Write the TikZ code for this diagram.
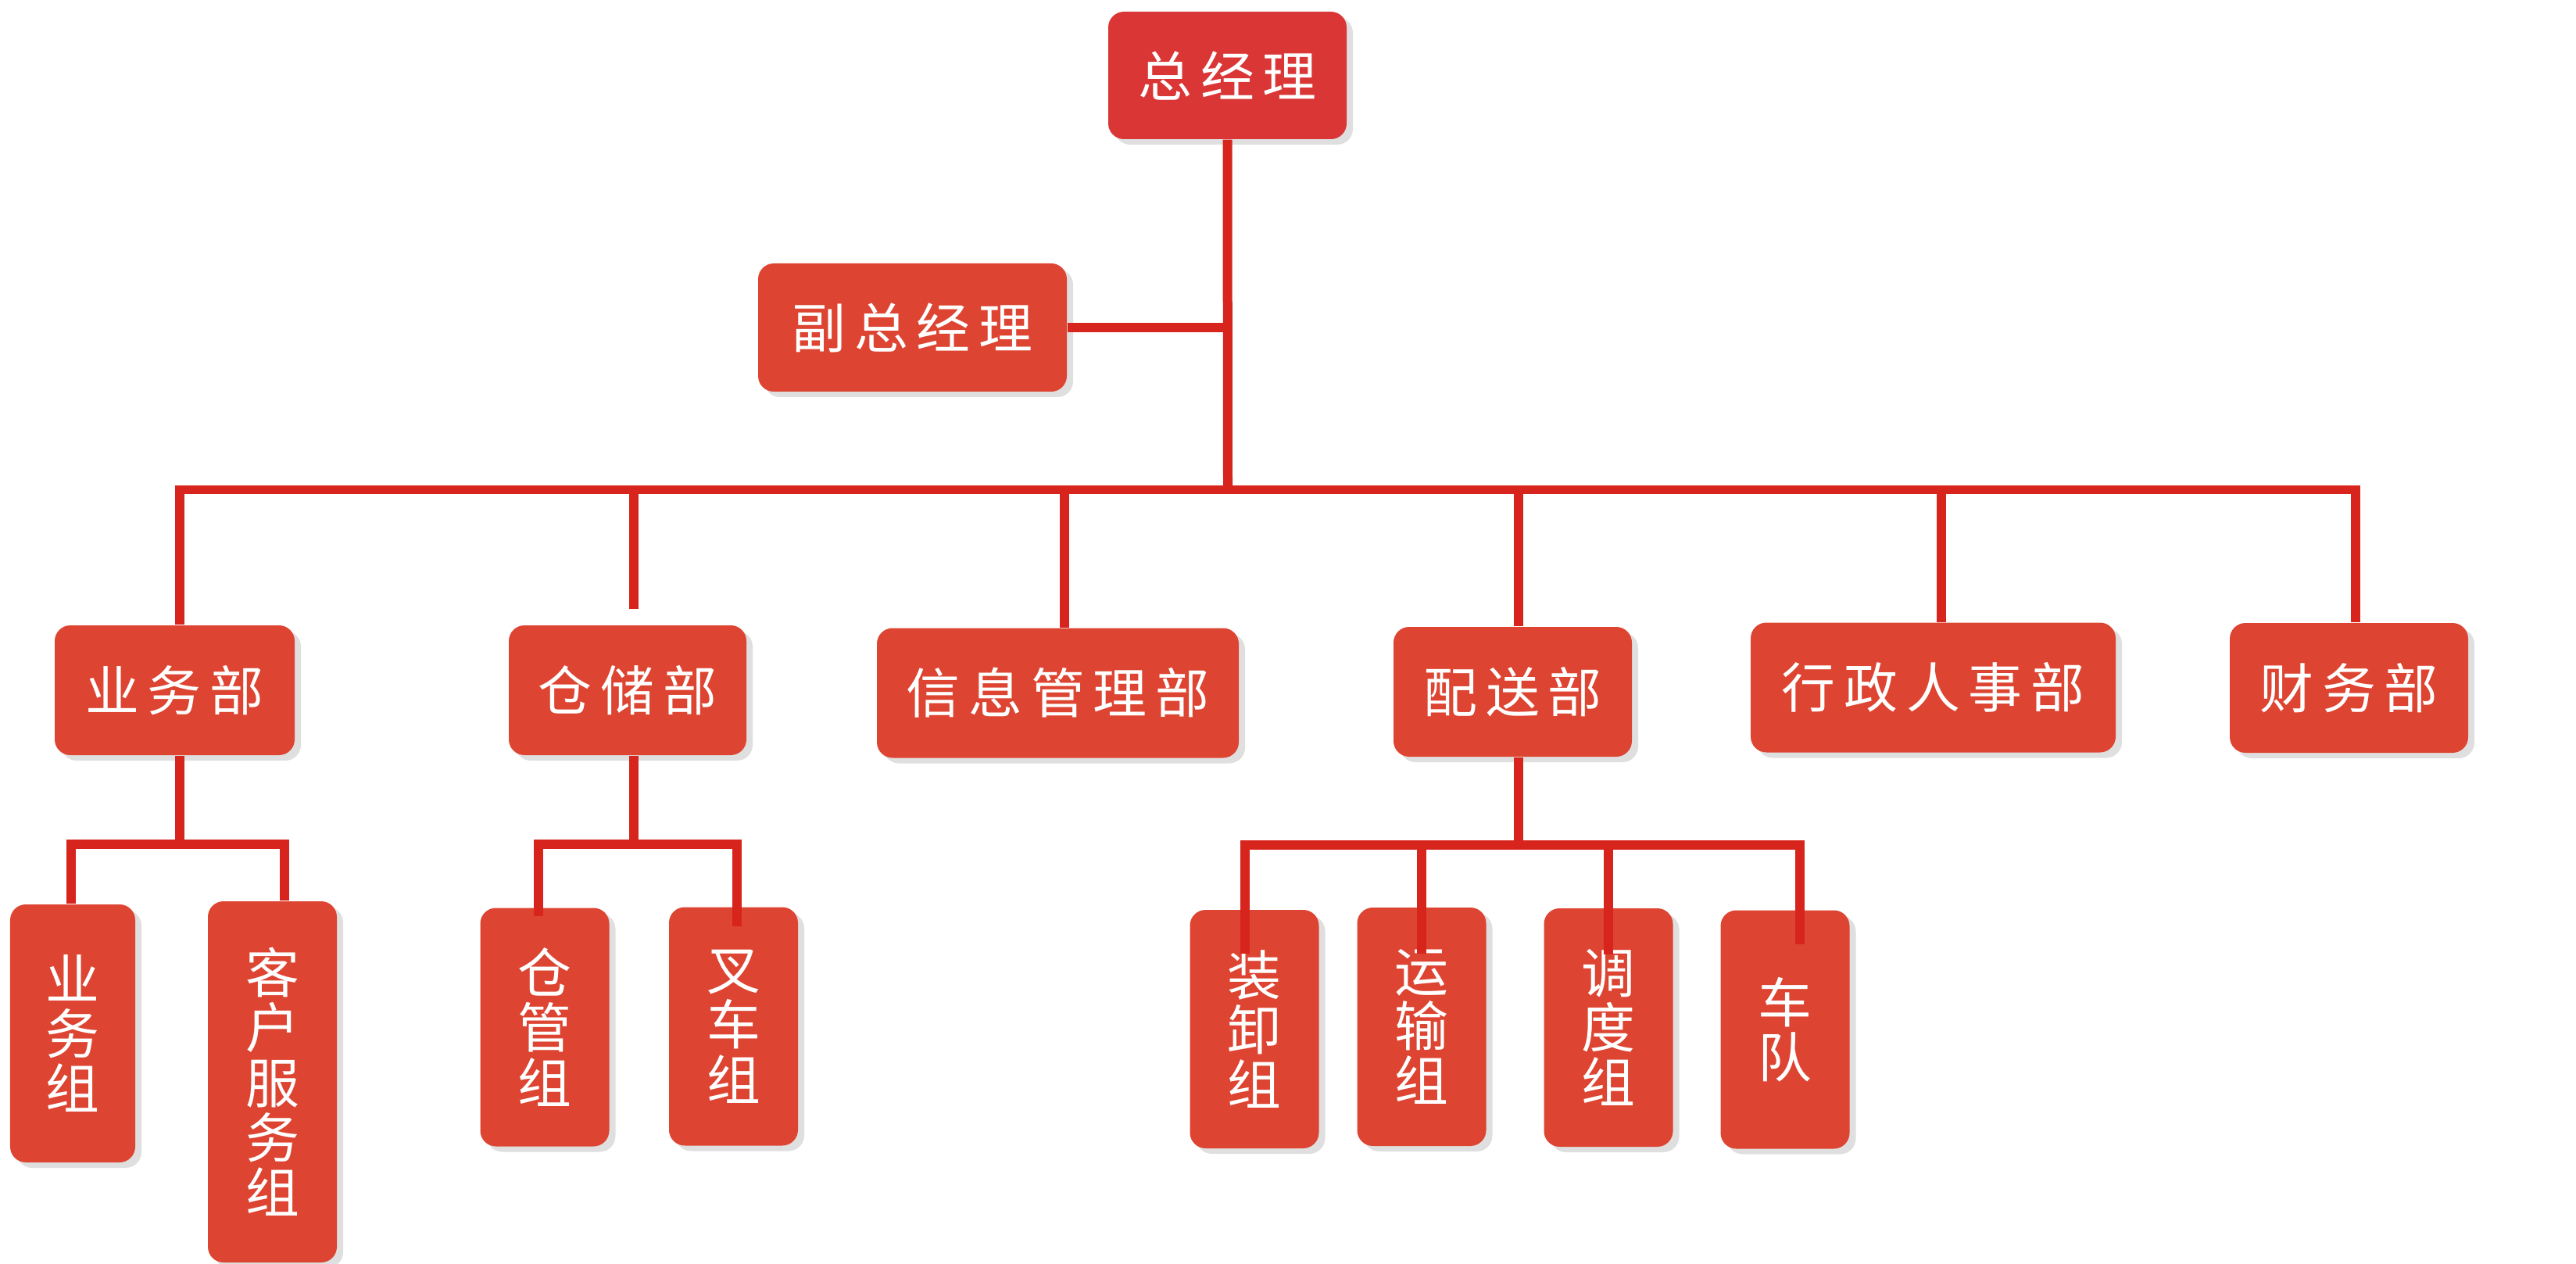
\documentclass[tikz,border=0pt]{standalone}
\usepackage{fontspec}
\newfontfamily\cjk[LetterSpace=16]{Noto Sans CJK SC}
\newfontfamily\cjkv{Noto Sans CJK SC}
\usetikzlibrary{shadows}

\definecolor{boxred}{HTML}{DD4431}
\definecolor{topred}{HTML}{D93635}
\definecolor{linered}{HTML}{D7241D}

\tikzset{
  deptbox/.style={rounded corners=0.2cm, fill=boxred, text=white, inner sep=0pt,
    minimum height=1.66cm, font=\cjk\fontsize{19.6pt}{20pt}\selectfont,
    drop shadow={shadow xshift=0.08cm, shadow yshift=-0.07cm, opacity=0.25}},
  topbox/.style={deptbox, fill=topred},
  groupbox/.style={deptbox, minimum width=1.65cm, minimum height=3.05cm, align=center,
    font=\cjkv\fontsize{19.6pt}{20pt}\selectfont},
  link/.style={draw=linered, line width=0.12cm},
}

\begin{document}
\begin{tikzpicture}
            \useasboundingbox (0,0) rectangle (32.96,-16.17);

            \node[topbox, minimum width=3.05cm, minimum height=1.63cm] (gm) at (15.705,-0.965) {总经理};
            \node[deptbox, minimum width=3.95cm, minimum height=1.64cm] (dgm) at (11.675,-4.19) {副总经理};

            \node[deptbox, minimum width=3.07cm] (yw) at (2.235,-8.83) {业务部};
            \node[deptbox, minimum width=3.04cm] (cc) at (8.03,-8.83) {仓储部};
            \node[deptbox, minimum width=4.63cm] (xx) at (13.535,-8.865) {信息管理部};
            \node[deptbox, minimum width=3.05cm] (ps) at (19.355,-8.85) {配送部};
            \node[deptbox, minimum width=4.67cm] (xz) at (24.735,-8.795) {行政人事部};
            \node[deptbox, minimum width=3.05cm] (cw) at (30.055,-8.80) {财务部};

            \node[groupbox, minimum width=1.60cm, minimum height=3.30cm] (ywz) at (0.93,-13.22) {业\\务\\组};
            \node[groupbox, minimum height=4.62cm] (kf) at (3.485,-13.84) {客\\户\\服\\务\\组};
            \node[groupbox] (cg) at (6.97,-13.14) {仓\\管\\组};
            \node[groupbox] (cz) at (9.385,-13.13) {叉\\车\\组};
            \node[groupbox] (zx) at (16.05,-13.165) {装\\卸\\组};
            \node[groupbox] (ys) at (18.19,-13.135) {运\\输\\组};
            \node[groupbox] (dd) at (20.58,-13.145) {调\\度\\组};
            \node[groupbox] (cd) at (22.84,-13.17) {车\\队};

            % top levels
            \coordinate (hub) at (15.71,-6.265);
            \draw[link] (gm.south) -- (hub);
            \draw[link] (dgm.east) -- (dgm.east -| hub);
            \draw[link] ([xshift=0.06cm]yw.north) |- (hub) -| ([xshift=0.08cm]cw.north);
            \foreach \n/\s in {xx/0.08,ps/0.07,xz/0.10}
              \draw[link] ([xshift=\s cm]\n.north) -- ([xshift=\s cm]\n.north |- hub);
            \draw[link] ([xshift=0.08cm,yshift=0.2cm]cc.north) -- ([xshift=0.08cm]cc.north |- hub);

            % groups
            \draw[link] ([xshift=0.06cm]yw.south) -- ++(0,-1.13) coordinate (ywhub);
            \draw[link] ([xshift=-0.02cm]ywz.north) |- (ywhub) -| ([xshift=0.15cm]kf.north);

            \draw[link] ([xshift=0.08cm]cc.south) -- ++(0,-1.13) coordinate (cchub);
            \draw[link] ([xshift=-0.08cm,yshift=-0.11cm]cg.north) |- (cchub) -| ([xshift=0.04cm,yshift=-0.25cm]cz.north);

            \draw[link] ([xshift=0.07cm]ps.south) -- ++(0,-1.12) coordinate (pshub);
            \draw[link] ([xshift=-0.12cm,yshift=-0.57cm]zx.north) |- (pshub) -| ([xshift=0.19cm,yshift=-0.44cm]cd.north);
            \foreach \n in {ys,dd} \draw[link] ([yshift=-0.6cm]\n.north) -- (\n.north |- pshub);
        \end{tikzpicture}
\end{document}
